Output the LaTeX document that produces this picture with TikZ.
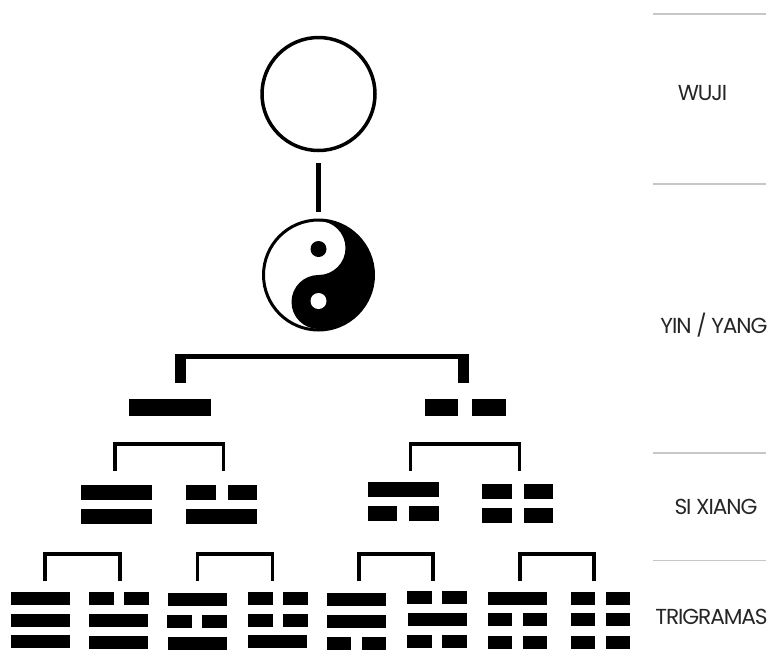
\documentclass[tikz,border=0pt]{standalone}
\usepackage{fontspec}
\setmainfont{Poppins}[LetterSpace=-5]
\usepackage{tikz}

\begin{document}
\begin{tikzpicture}[x = 1pt, y = -1pt, line cap = butt,
  every node/.style = {inner sep = 0pt},
  barbig/.style = {fill = black, minimum width = 81.5pt, minimum height = 17pt},
  halfbig/.style = {fill = black, minimum width = 33.5pt, minimum height = 17pt},
  barmid/.style = {fill = black, minimum width = 71pt, minimum height = 15pt},
  halfmid/.style = {fill = black, minimum width = 29.5pt, minimum height = 15pt},
  barsmall/.style = {fill = black, minimum width = 59pt, minimum height = 13pt},
  halfsmall/.style = {fill = black, minimum width = 24.5pt, minimum height = 13pt},
  bracket/.style = {draw = black, line width = 3.6pt},
  rule/.style = {draw = black!22, line width = 1.6pt},
  level/.style = {text = black!85, font = \fontsize{21.7}{22}\selectfont}]

  \useasboundingbox (0, 0) rectangle (769, 665);

  % wuji and taiji
  \node [circle, draw, line width = 3.5pt, minimum size = 113pt] (wuji) at (318.5, 94) {};
  \node [circle, draw, line width = 3pt, minimum size = 110pt] (taiji) at (318.5, 275) {};
  \draw [line width = 5pt, shorten <= 11pt, shorten >= 7pt] (wuji.south) -- (taiji.north);

  \fill (318.5, 221) arc [start angle = 90, end angle = -90, radius = 54pt]
    arc [start angle = -90, end angle = -270, radius = 27pt]
    arc [start angle = -90, end angle = 90, radius = 27pt];
  \node [circle, fill = black, minimum size = 16pt] (dotblack) at (318.5, 249) {};
  \node [circle, fill = white, minimum size = 16pt] (dotwhite) at (318.5, 301) {};

  % yin yang
  \coordinate (yangend) at (180.5, 383);
  \coordinate (yinend) at (463.5, 383);
  \draw [bracket, line width = 5pt] (175.5, 356.5) -- (468.5, 356.5);
  \draw [line width = 11pt] (yangend) -- (180.5, 354);
  \draw [line width = 11pt] (yinend) -- (463.5, 354);

  \node [barbig] (yang) at (170, 407.5) {};
  \node [halfbig] (yinl) at (441.5, 407.5) {};
  \node [halfbig] (yinr) at (489, 407.5) {};

  % si xiang
  \coordinate (yangl) at (115, 471);
  \coordinate (yangr) at (223.5, 471);
  \coordinate (yinlend) at (410.5, 471);
  \coordinate (yinrend) at (519.5, 471);
  \draw [bracket] (yangl) |- (223.5, 444) -- (yangr);
  \draw [bracket] (yinlend) |- (519.5, 444) -- (yinrend);

  \node [barmid] (sa1) at (116.5, 492.5) {};
  \node [barmid] (sa2) at (116.5, 516.5) {};

  \node [halfmid] (sb1l) at (200.75, 492.5) {};
  \node [halfmid] (sb1r) at (242.25, 492.5) {};
  \node [barmid] (sb2) at (221.5, 516.5) {};

  \node [barmid] (sc1) at (403.3, 489.7) {};
  \node [halfmid] (sc2l) at (382.5, 513.2) {};
  \node [halfmid] (sc2r) at (424.2, 513.2) {};

  \node [halfmid] (sd1l) at (497, 491.2) {};
  \node [halfmid] (sd1r) at (538.5, 491.2) {};
  \node [halfmid] (sd2l) at (497, 515.2) {};
  \node [halfmid] (sd2r) at (538.5, 515.2) {};

  % trigramas
  \coordinate (ta) at (45, 581);
  \coordinate (tb) at (120, 581);
  \coordinate (tc) at (197.5, 581);
  \coordinate (td) at (272.5, 581);
  \coordinate (te) at (359, 581);
  \coordinate (tf) at (433, 581);
  \coordinate (tg) at (520, 581);
  \coordinate (th) at (594, 581);
  \draw [bracket] (ta) |- (120, 554) -- (tb);
  \draw [bracket] (tc) |- (272.5, 554) -- (td);
  \draw [bracket] (te) |- (433, 554) -- (tf);
  \draw [bracket] (tg) |- (594, 554) -- (th);

  \node [barsmall] (ta1) at (40, 598.5) {};
  \node [barsmall] (ta2) at (40, 620) {};
  \node [barsmall] (ta3) at (40, 641.5) {};

  \node [halfsmall] (tb1l) at (101.25, 598.5) {};
  \node [halfsmall] (tb1r) at (136.25, 598.5) {};
  \node [barsmall] (tb2) at (118.5, 620) {};
  \node [barsmall] (tb3) at (118.5, 642.5) {};

  \node [barsmall] (tc1) at (197, 599.5) {};
  \node [halfsmall] (tc2l) at (179.25, 621) {};
  \node [halfsmall] (tc2r) at (214.25, 621) {};
  \node [barsmall] (tc3) at (197, 643) {};

  \node [halfsmall] (td1l) at (260.25, 598.5) {};
  \node [halfsmall] (td1r) at (295.25, 598.5) {};
  \node [halfsmall] (td2l) at (260.25, 620) {};
  \node [halfsmall] (td2r) at (295.25, 620) {};
  \node [barsmall] (td3) at (277.5, 641.5) {};

  \node [barsmall] (te1) at (356.5, 599.5) {};
  \node [barsmall] (te2) at (356.5, 621) {};
  \node [halfsmall] (te3l) at (339, 643) {};
  \node [halfsmall] (te3r) at (374, 643) {};

  \node [halfsmall] (tf1l) at (419.5, 597.5) {};
  \node [halfsmall] (tf1r) at (454.5, 597.5) {};
  \node [barsmall] (tf2) at (437.2, 619.5) {};
  \node [halfsmall] (tf3l) at (419.5, 641.5) {};
  \node [halfsmall] (tf3r) at (454.5, 641.5) {};

  \node [barsmall] (tg1) at (517.5, 598.5) {};
  \node [halfsmall] (tg2l) at (500, 619.5) {};
  \node [halfsmall] (tg2r) at (535, 619.5) {};
  \node [halfsmall] (tg3l) at (500, 642) {};
  \node [halfsmall] (tg3r) at (535, 642) {};

  \node [halfsmall] (th1l) at (583, 598) {};
  \node [halfsmall] (th1r) at (618, 598) {};
  \node [halfsmall] (th2l) at (583, 619.5) {};
  \node [halfsmall] (th2r) at (618, 619.5) {};
  \node [halfsmall] (th3l) at (583, 642) {};
  \node [halfsmall] (th3r) at (618, 642) {};

  % level rules and names
  \coordinate (rulea) at (653, 14);
  \coordinate (ruleb) at (653, 184);
  \coordinate (rulec) at (653, 453);
  \coordinate (ruled) at (653, 560.5);
  \draw [rule] (rulea) -- ++(113, 0);
  \draw [rule] (ruleb) -- ++(113, 0);
  \draw [rule] (rulec) -- ++(113, 0);
  \draw [rule] (ruled) -- ++(113, 0);

  \node [level] (wujilabel) at (702.5, 93) {WUJI};
  \node [level] (yinyanglabel) at (714, 325) {YIN / YANG};
  \node [level] (sixianglabel) at (716, 507) {SI XIANG};
  \node [level] (trigramaslabel) at (711.5, 617) {TRIGRAMAS};

\end{tikzpicture}
\end{document}
